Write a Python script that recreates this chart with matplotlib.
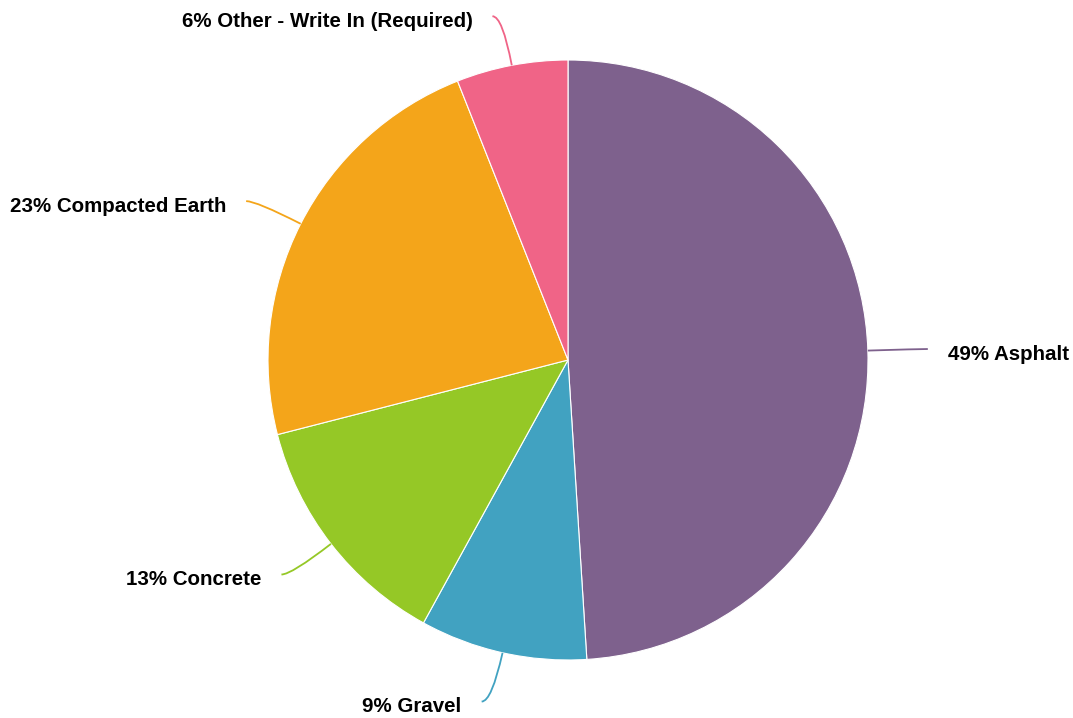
import numpy as np
import matplotlib
matplotlib.use("Agg")
import matplotlib.pyplot as plt
from matplotlib.path import Path
from matplotlib.patches import PathPatch

categories = ["Asphalt", "Gravel", "Concrete", "Compacted Earth", "Other - Write In (Required)"]
shares = [49, 9, 13, 23, 6]
colors = ["#7E618D", "#41A2C1", "#95C826", "#F4A51A", "#F06487"]

W, H = 1073, 718
fig = plt.figure(figsize=(W / 100, H / 100), dpi=100)
ax = fig.add_axes([0, 0, 1, 1])

cx, cy, R = 568, 358, 300
wedges, _ = ax.pie(shares, colors=colors, startangle=90, counterclock=False,
                   center=(cx, cy), radius=R, frame=True,
                   wedgeprops=dict(edgecolor="white", linewidth=0.8))
ax.set_xlim(0, W)
ax.set_ylim(0, H)
ax.set_aspect("equal")
ax.axis("off")

# curved leader from the rim to each label
for w, name, pct, col in zip(wedges, categories, shares, colors):
    ang = np.deg2rad((w.theta1 + w.theta2) / 2)
    ux, uy = np.cos(ang), np.sin(ang)
    right = ux >= 0
    sgn = 1 if right else -1
    p0 = (cx + R * ux, cy + R * uy)
    p1 = (cx + 350 * ux, cy + 350 * uy)
    p2 = (p1[0] + sgn * 10, p1[1])
    path = Path([p0, p1, p2], [Path.MOVETO, Path.CURVE3, Path.CURVE3])
    ax.add_patch(PathPatch(path, fill=False, edgecolor=col, linewidth=1.3))
    ax.text(p2[0] + sgn * 20, p2[1] - 5, f"{pct}% {name}",
            ha="left" if right else "right", va="center",
            fontsize=14.8, fontweight="bold", family="Liberation Sans", color="#000000")

fig.savefig("out.png", dpi=100)
